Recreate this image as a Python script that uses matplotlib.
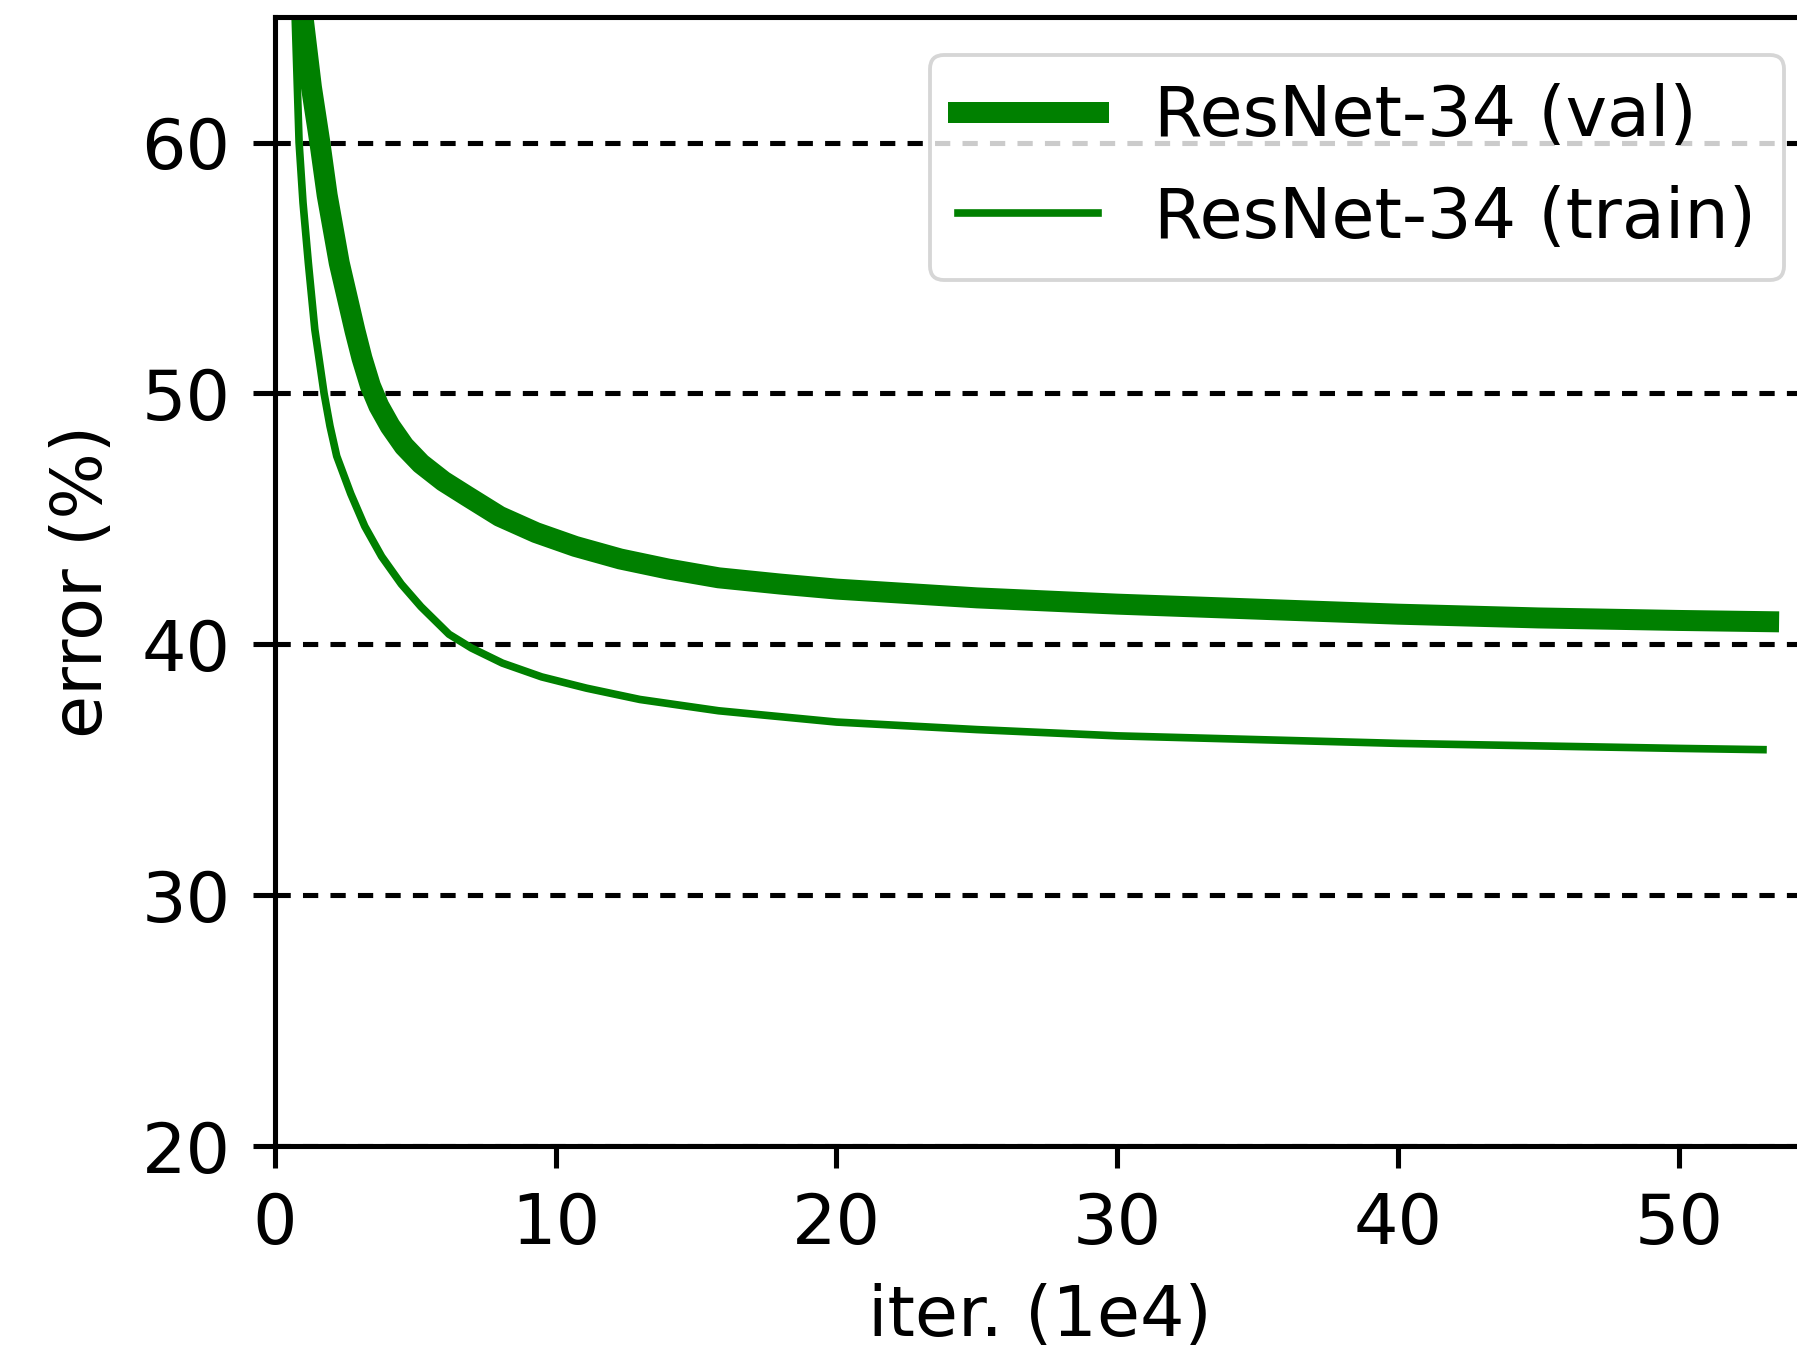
import numpy as np
import matplotlib
matplotlib.use("Agg")
import matplotlib.pyplot as plt

# Training curves, iterations in units of 1e4, error in percent
val_iter = np.array([1.0, 1.3, 1.6, 1.86, 2.29, 2.85, 3.1, 3.4, 3.7, 4.1, 4.6, 5.2, 6.0, 6.85,
                     8.0, 9.3, 10.7, 12.3, 14.0, 15.8, 18.0, 20.0, 25.0, 30.0, 35.0, 40.0,
                     45.0, 50.0, 53.2])
val_err = np.array([65.0, 62.2, 60.0, 57.9, 55.2, 52.5, 51.4, 50.3, 49.5, 48.7, 47.9, 47.2, 46.5, 45.9,
                    45.1, 44.45, 43.9, 43.4, 43.0, 42.65, 42.4, 42.2, 41.85, 41.6, 41.4, 41.2,
                    41.05, 40.95, 40.9])

train_iter = np.array([0.72, 0.86, 1.0, 1.19, 1.42, 1.75, 1.96, 2.2, 2.7, 3.2, 3.8, 4.5,
                       5.2, 6.2, 7.0, 8.1, 9.5, 11.1, 13.0, 15.8, 20.0, 25.0, 30.0, 35.0,
                       40.0, 45.0, 50.0, 53.0])
train_err = np.array([65.0, 60.0, 57.6, 55.2, 52.55, 50.0, 48.7, 47.5, 46.0, 44.7, 43.5, 42.4,
                      41.5, 40.4, 39.85, 39.25, 38.7, 38.25, 37.8, 37.35, 36.9, 36.6, 36.35,
                      36.2, 36.05, 35.95, 35.85, 35.8])

series_labels = ["ResNet-34 (val)", "ResNet-34 (train)"]
x_ticks = [0, 10, 20, 30, 40, 50]
y_ticks = [20, 30, 40, 50, 60]

plt.rcParams["font.family"] = "DejaVu Sans"
plt.rcParams["font.size"] = 11

dpi = 458
fig = plt.figure(figsize=(1797 / dpi, 1365 / dpi), dpi=dpi)
ax = fig.add_axes([0.1530, 0.1604, 0.8515, 0.8271])

ax.plot(val_iter, val_err, color="green", lw=3.3, label=series_labels[0])
ax.plot(train_iter, train_err, color="green", lw=1.2, label=series_labels[1])

ax.set_xlim(0, 54.5)
ax.set_ylim(20, 65)
ax.set_xticks(x_ticks)
ax.set_yticks(y_ticks)
ax.yaxis.grid(True, color="black", lw=0.8, linestyle=(0, (3, 2.4)))
ax.set_axisbelow(True)

ax.set_xlabel("iter. (1e4)")
ax.set_ylabel("error (%)")

leg = ax.legend(loc="upper right", bbox_to_anchor=(0.9928, 0.9597),
                bbox_transform=fig.transFigure, borderaxespad=0)
leg.get_frame().set_linewidth(0.6)

fig.savefig("out.png", dpi=dpi)
